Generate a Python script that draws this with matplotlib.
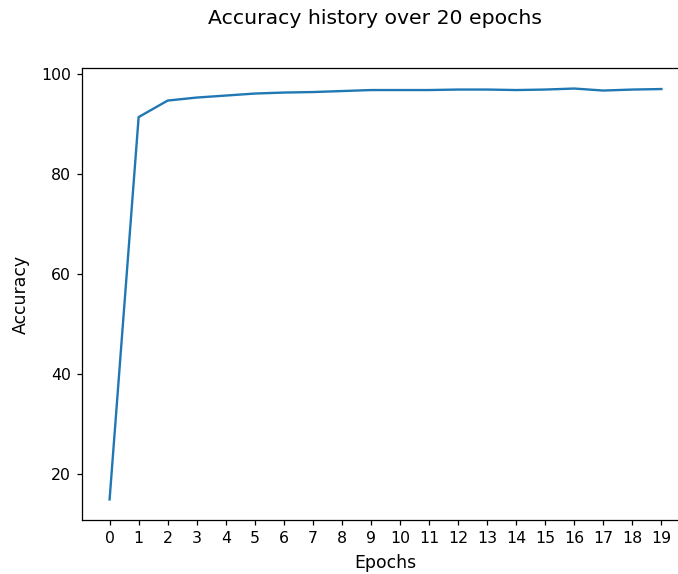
import numpy as np
import matplotlib
matplotlib.use("Agg")
import matplotlib.pyplot as plt

epochs = list(range(20))
accuracy = [15.0, 91.4, 94.7, 95.3, 95.7, 96.1, 96.3, 96.4, 96.6, 96.8,
            96.8, 96.8, 96.9, 96.9, 96.8, 96.9, 97.1, 96.7, 96.9, 97.0]

# reference looks rendered a bit larger than default, and cropped on the right
fig = plt.figure(figsize=(678 / 113, 574 / 113), dpi=113)
ax = fig.add_subplot(111)
fig.subplots_adjust(left=82 / 678, right=689 / 678, top=1 - 68 / 574, bottom=1 - 520 / 574)

ax.plot(epochs, accuracy)
ax.set_xticks(epochs)
ax.set_xlabel("Epochs", fontsize=11, labelpad=5)
ax.set_ylabel("Accuracy", fontsize=11, labelpad=7)
fig.suptitle("Accuracy history over 20 epochs", fontsize=13,
             x=375 / 678, y=1 - 19 / 574, va="center")

fig.savefig("out.png", dpi=113)
